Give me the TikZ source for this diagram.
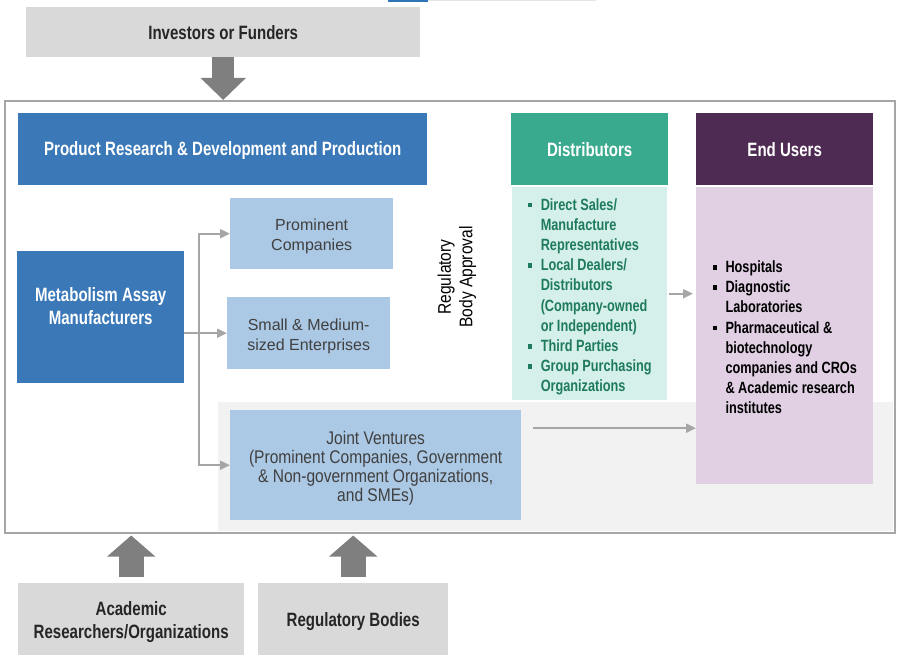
\documentclass[tikz,border=0pt]{standalone}
\usepackage{fontspec}
\setmainfont{Liberation Sans}
\newfontfamily\cnd{Liberation Sans}[FakeStretch=0.85]
\newfontfamily\cndh{Liberation Sans}[FakeStretch=0.78]
\usetikzlibrary{arrows.meta}
\definecolor{mblue}{RGB}{58,120,184}
\definecolor{lblue}{RGB}{171,200,228}
\definecolor{tealh}{RGB}{58,170,143}
\definecolor{mint}{RGB}{213,240,234}
\definecolor{tealtxt}{RGB}{30,122,92}
\definecolor{plum}{RGB}{78,43,82}
\definecolor{lilac}{RGB}{225,207,228}
\definecolor{lgray}{RGB}{217,217,217}
\definecolor{agray}{RGB}{127,127,127}
\definecolor{cgray}{RGB}{166,166,166}
\definecolor{shadegray}{RGB}{242,242,242}
\definecolor{dtxt}{RGB}{38,38,38}
\definecolor{ltxt}{RGB}{64,64,64}
\definecolor{tinyblue}{RGB}{46,117,182}
\definecolor{tinygray}{RGB}{230,230,230}
\newcommand\sqb{\makebox[13pt][l]{\raisebox{2.7pt}{\rule{4.5pt}{4.5pt}}}}
\newcommand\ind{\hspace*{13pt}}
\newcommand\tstrut[1]{\rule{0pt}{#1}}
\begin{document}
\begin{tikzpicture}[x=1pt,y=-1pt,
  bx/.style={anchor=north west, inner sep=0pt, align=center},
  hdr/.style={bx, text=white, font=\cndh\bfseries\fontsize{19.3}{23}\selectfont},
  gbox/.style={bx, fill=lgray, text=dtxt, font=\cndh\bfseries\fontsize{19.3}{23}\selectfont},
  lbox/.style={bx, fill=lblue, text=ltxt, font=\fontsize{16}{20}\selectfont},
  bodyfont/.style={font=\cndh\bfseries\fontsize{16.3}{20.2}\selectfont},
  conn/.style={draw=cgray, line width=2pt, -{Triangle[length=10pt,width=9pt]}},
  conntwo/.style={draw=cgray, line width=2pt, {Triangle[length=10pt,width=9pt]}-{Triangle[length=10pt,width=9pt]}},
  bigarrtop/.style={draw=agray, line width=22pt, -{Triangle[length=22pt,width=44pt]}},
  bigarrbot/.style={draw=agray, line width=25pt, -{Triangle[length=21pt,width=47pt]}}
]
\useasboundingbox (0,0) rectangle (900,661);
% small strip at top edge
\fill[tinyblue] (388,0) rectangle (428,2);
\fill[tinygray] (428,0) rectangle (596,1.5);

% outer frame and shaded region
\fill[shadegray] (218,402) rectangle (893,531);
\node[bx, draw=cgray, line width=1.5pt, minimum width=890, minimum height=432] (frame) at (4,100) {};

% top box
\node[gbox, minimum width=394, minimum height=50] (inv) at (26,7) {Investors or Funders};

% headers
\node[hdr, fill=mblue, minimum width=409, minimum height=72] (prd) at (18,113) {\tstrut{17pt}Product Research \& Development and Production};
\node[hdr, fill=tealh, minimum width=157, minimum height=72] (dh) at (511,113) {Distributors};
\node[hdr, fill=plum, minimum width=177, minimum height=72] (eh) at (696,113) {End Users};

% bodies
\node[bx, fill=mint, text=tealtxt, align=left, minimum width=155, minimum height=213, bodyfont] (db) at (512,187)
  {\tstrut{18pt}\sqb Direct Sales/\\\ind Manufacture\\\ind Representatives\\\sqb Local Dealers/\\\ind Distributors\\\ind (Company-owned\\\ind or Independent)\\\sqb Third Parties\\\sqb Group Purchasing\\\ind Organizations};
\node[bx, fill=lilac, text=black, align=left, minimum width=177, minimum height=297, bodyfont] (eb) at (696,187)
  {\tstrut{15pt}\sqb Hospitals\\\sqb Diagnostic\\\ind Laboratories\\\sqb Pharmaceutical \&\\\ind biotechnology\\\ind companies and CROs\\\ind \& Academic research\\\ind institutes};

% manufacturers
\node[hdr, fill=mblue, minimum width=167, minimum height=132] (mam) at (17,251) {Metabolism Assay\\Manufacturers\\\mbox{}};

% light boxes
\node[lbox, minimum width=163, minimum height=71] (pc) at (230,198) {\tstrut{17.5pt}Prominent\\Companies};
\node[lbox, minimum width=163, minimum height=72] (sme) at (227,297) {\tstrut{17.5pt}Small \& Medium-\\sized Enterprises};
\node[lbox, minimum width=291, minimum height=110, font=\cnd\fontsize{18.3}{18.8}\selectfont] (jv) at (230,410) {\tstrut{19pt}Joint Ventures\\(Prominent Companies, Government\\\& Non-government Organizations,\\and SMEs)};

% regulatory approval label
\node[rotate=90, align=center, inner sep=0pt, font=\cnd\fontsize{18.3}{21.5}\selectfont] (rba) at (457,277) {Regulatory\\Body Approval};

% bottom boxes
\node[gbox, minimum width=226, minimum height=72] (acad) at (18,583) {\tstrut{20pt}Academic\\Researchers/Organizations};
\node[gbox, minimum width=190, minimum height=72] (reg) at (258,583) {\tstrut{18pt}Regulatory Bodies};

% connectors
\coordinate (jn) at ([xshift=15pt]mam.east);
\draw[conn] (mam.east |- sme.west) -- (sme.west);
\draw[conntwo] (pc.west) -- (pc.west -| jn) -- (jv.west -| jn) -- (jv.west);
\draw[conn] ([xshift=2pt]db.east) -- ([xshift=-3pt]db.east -| eb.west);
\coordinate (ja) at ([xshift=12pt,yshift=37pt]jv.east);
\draw[conn] (ja) -- (ja -| eb.west);

% big arrows
\draw[bigarrtop] (inv.south) -- (inv.south |- frame.north);
\draw[bigarrbot] ([yshift=6pt]acad.north) -- ([yshift=-2pt]acad.north |- frame.south);
\draw[bigarrbot] ([yshift=6pt]reg.north) -- ([yshift=-2pt]reg.north |- frame.south);
\end{tikzpicture}
\end{document}
